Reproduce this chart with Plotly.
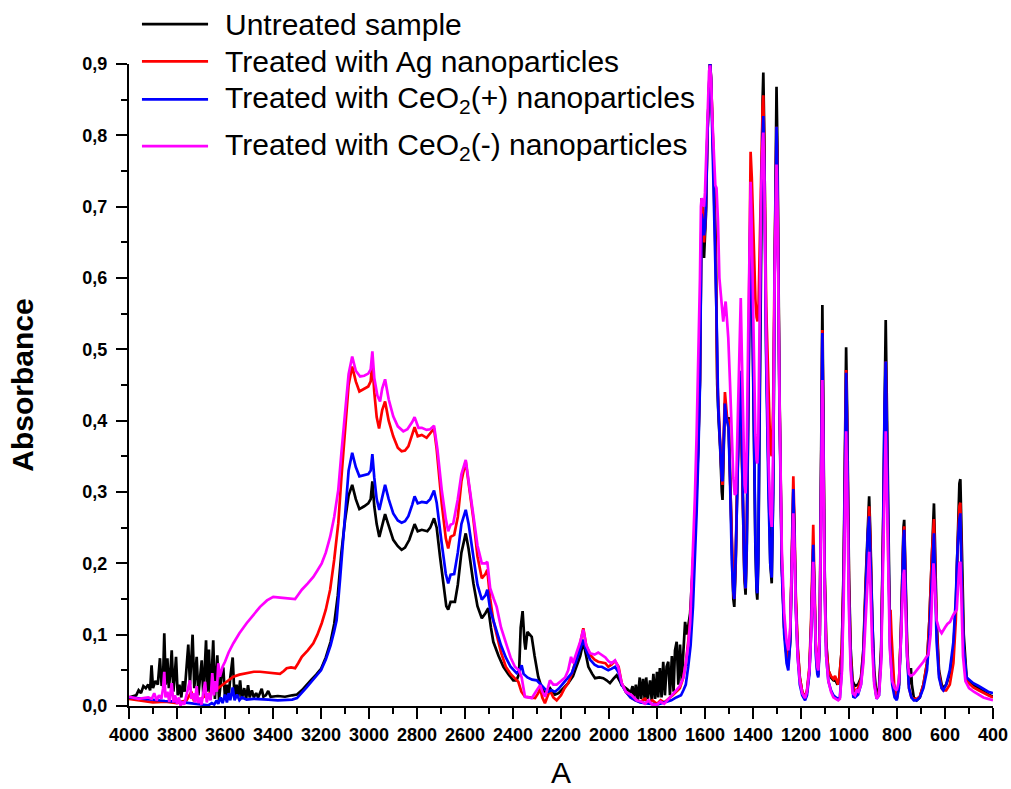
import plotly.graph_objects as go

# ---------------- data (wavenumber, absorbance) ----------------
untreated = [
    (4000, 0.012), (3985, 0.013), (3970, 0.015), (3960, 0.022), (3950, 0.018), (3940, 0.028),
    (3930, 0.025), (3920, 0.030), (3912, 0.022), (3906, 0.057), (3900, 0.025), (3890, 0.035),
    (3880, 0.030), (3871, 0.067), (3864, 0.028), (3858, 0.040), (3853, 0.102), (3847, 0.030),
    (3840, 0.067), (3834, 0.025), (3828, 0.045), (3822, 0.078), (3815, 0.020), (3810, 0.040),
    (3804, 0.069), (3797, 0.015), (3790, 0.030), (3782, 0.012), (3775, 0.035), (3768, 0.020),
    (3760, 0.055), (3753, 0.086), (3746, 0.030), (3740, 0.060), (3735, 0.100), (3728, 0.025),
    (3723, 0.045), (3718, 0.069), (3711, 0.015), (3704, 0.040), (3697, 0.064), (3690, 0.012),
    (3685, 0.050), (3679, 0.092), (3673, 0.020), (3667, 0.079), (3660, 0.010), (3655, 0.045),
    (3649, 0.092), (3642, 0.010), (3637, 0.040), (3632, 0.071), (3625, 0.008), (3619, 0.030),
    (3613, 0.050), (3607, 0.054), (3600, 0.010), (3592, 0.030), (3585, 0.012), (3578, 0.040),
    (3568, 0.068), (3560, 0.010), (3552, 0.030), (3545, 0.012), (3537, 0.036), (3530, 0.010),
    (3520, 0.025), (3512, 0.010), (3504, 0.029), (3497, 0.012), (3488, 0.022), (3480, 0.012),
    (3470, 0.018), (3462, 0.012), (3447, 0.024), (3440, 0.013), (3430, 0.015), (3420, 0.021),
    (3410, 0.013), (3380, 0.014), (3350, 0.013), (3320, 0.015), (3300, 0.016), (3280, 0.022),
    (3260, 0.030), (3240, 0.037), (3220, 0.044), (3200, 0.052), (3180, 0.068), (3160, 0.090),
    (3145, 0.115), (3130, 0.155), (3115, 0.215), (3100, 0.260), (3085, 0.295), (3070, 0.310),
    (3055, 0.290), (3040, 0.276), (3020, 0.280), (3003, 0.284), (2993, 0.290), (2986, 0.315),
    (2978, 0.280), (2968, 0.255), (2957, 0.237), (2945, 0.255), (2933, 0.269), (2920, 0.255),
    (2899, 0.233), (2880, 0.224), (2864, 0.219), (2850, 0.222), (2832, 0.233), (2820, 0.245),
    (2810, 0.255), (2797, 0.245), (2780, 0.247), (2757, 0.245), (2745, 0.250), (2729, 0.263),
    (2718, 0.250), (2704, 0.209), (2690, 0.170), (2678, 0.140), (2670, 0.135), (2660, 0.146),
    (2642, 0.146), (2630, 0.170), (2615, 0.215), (2597, 0.242), (2585, 0.220), (2565, 0.172),
    (2548, 0.140), (2530, 0.123), (2515, 0.130), (2503, 0.137), (2492, 0.110), (2482, 0.090),
    (2460, 0.070), (2440, 0.055), (2420, 0.045), (2399, 0.036), (2385, 0.036), (2375, 0.045),
    (2368, 0.110), (2360, 0.133), (2352, 0.090), (2348, 0.079), (2340, 0.104), (2322, 0.097),
    (2310, 0.070), (2295, 0.041), (2280, 0.025), (2267, 0.018), (2255, 0.022), (2246, 0.025),
    (2235, 0.020), (2225, 0.016), (2210, 0.018), (2190, 0.025), (2170, 0.032), (2150, 0.042),
    (2135, 0.055), (2120, 0.070), (2107, 0.090), (2095, 0.068), (2086, 0.055), (2070, 0.045),
    (2058, 0.039), (2040, 0.040), (2024, 0.039), (2010, 0.036), (1996, 0.032), (1982, 0.038),
    (1968, 0.043), (1955, 0.035), (1947, 0.029), (1930, 0.025), (1919, 0.022), (1910, 0.018),
    (1902, 0.028), (1896, 0.010), (1888, 0.030), (1880, 0.008), (1872, 0.040), (1866, 0.010),
    (1858, 0.038), (1851, 0.008), (1845, 0.040), (1838, 0.010), (1829, 0.036), (1822, 0.008),
    (1815, 0.045), (1808, 0.010), (1800, 0.048), (1795, 0.012), (1788, 0.053), (1781, 0.012),
    (1774, 0.062), (1767, 0.015), (1760, 0.055), (1753, 0.062), (1746, 0.015), (1738, 0.070),
    (1731, 0.020), (1725, 0.078), (1718, 0.090), (1711, 0.030), (1704, 0.086), (1697, 0.035),
    (1690, 0.070), (1683, 0.118), (1675, 0.100), (1662, 0.130), (1650, 0.200), (1642, 0.247),
    (1635, 0.300), (1628, 0.364), (1621, 0.457), (1617, 0.600), (1614, 0.712), (1609, 0.690),
    (1604, 0.628), (1600, 0.660), (1596, 0.689), (1590, 0.800), (1583, 0.880), (1579, 0.905),
    (1575, 0.880), (1569, 0.820), (1561, 0.726), (1555, 0.647), (1549, 0.450), (1543, 0.400),
    (1537, 0.364), (1530, 0.300), (1527, 0.289), (1522, 0.360), (1517, 0.425), (1512, 0.410),
    (1507, 0.400), (1502, 0.405), (1496, 0.330), (1488, 0.200), (1482, 0.150), (1478, 0.139),
    (1472, 0.200), (1465, 0.320), (1458, 0.420), (1454, 0.460), (1449, 0.400), (1442, 0.260),
    (1436, 0.180), (1431, 0.156), (1426, 0.220), (1420, 0.400), (1414, 0.620), (1410, 0.700),
    (1406, 0.640), (1398, 0.400), (1390, 0.220), (1385, 0.160), (1382, 0.149), (1378, 0.200),
    (1372, 0.420), (1366, 0.700), (1360, 0.850), (1357, 0.888), (1353, 0.800), (1345, 0.500),
    (1335, 0.300), (1328, 0.200), (1322, 0.172), (1316, 0.300), (1310, 0.600), (1305, 0.830),
    (1302, 0.868), (1298, 0.780), (1290, 0.450), (1280, 0.200), (1270, 0.110), (1260, 0.070),
    (1253, 0.057), (1245, 0.090), (1240, 0.180), (1236, 0.280), (1232, 0.300), (1228, 0.250),
    (1222, 0.150), (1214, 0.080), (1205, 0.040), (1195, 0.020), (1183, 0.011), (1175, 0.020),
    (1165, 0.050), (1158, 0.110), (1152, 0.200), (1149, 0.220), (1145, 0.170), (1138, 0.080),
    (1132, 0.050), (1128, 0.043), (1122, 0.100), (1117, 0.300), (1113, 0.500), (1111, 0.562),
    (1108, 0.450), (1102, 0.200), (1095, 0.090), (1086, 0.050), (1075, 0.040), (1065, 0.036),
    (1055, 0.035), (1048, 0.030), (1040, 0.040), (1030, 0.080), (1022, 0.200), (1016, 0.400),
    (1012, 0.503), (1008, 0.420), (1000, 0.180), (993, 0.080), (985, 0.035), (975, 0.028),
    (962, 0.030), (950, 0.040), (940, 0.080), (930, 0.180), (922, 0.260), (916, 0.294),
    (911, 0.240), (903, 0.120), (895, 0.050), (885, 0.015), (875, 0.025), (866, 0.080),
    (858, 0.250), (852, 0.450), (847, 0.541), (843, 0.440), (836, 0.220), (830, 0.110),
    (820, 0.050), (810, 0.020), (801, 0.010), (792, 0.030), (784, 0.100), (778, 0.200),
    (773, 0.250), (770, 0.261), (766, 0.200), (758, 0.090), (750, 0.030), (745, 0.045),
    (742, 0.053), (738, 0.030), (730, 0.012), (718, 0.008), (705, 0.012), (690, 0.030),
    (675, 0.060), (665, 0.120), (655, 0.220), (650, 0.265), (646, 0.284), (642, 0.230),
    (635, 0.120), (625, 0.050), (614, 0.030), (607, 0.025), (595, 0.030), (580, 0.045),
    (565, 0.080), (555, 0.140), (548, 0.240), (540, 0.312), (536, 0.318), (530, 0.200),
    (522, 0.100), (510, 0.040), (495, 0.032), (482, 0.030), (460, 0.025), (440, 0.020),
    (420, 0.016), (400, 0.013),
]

ag = [
    (4000, 0.010), (3950, 0.007), (3900, 0.005), (3850, 0.006), (3800, 0.004), (3760, 0.008),
    (3740, 0.020), (3730, 0.008), (3700, 0.010), (3680, 0.015), (3660, 0.018), (3640, 0.022),
    (3621, 0.027), (3600, 0.032), (3585, 0.036), (3565, 0.041), (3540, 0.044), (3510, 0.046),
    (3480, 0.048), (3454, 0.048), (3420, 0.047), (3390, 0.046), (3371, 0.045), (3355, 0.049),
    (3343, 0.053), (3325, 0.054), (3308, 0.053), (3295, 0.060), (3280, 0.069), (3255, 0.078),
    (3232, 0.088), (3215, 0.100), (3197, 0.116), (3180, 0.135), (3162, 0.163), (3145, 0.205),
    (3128, 0.256), (3115, 0.320), (3100, 0.387), (3085, 0.450), (3070, 0.476), (3055, 0.455),
    (3040, 0.441), (3020, 0.445), (3003, 0.448), (2993, 0.455), (2986, 0.481), (2978, 0.440),
    (2968, 0.405), (2958, 0.389), (2945, 0.415), (2933, 0.427), (2918, 0.400), (2899, 0.378),
    (2880, 0.362), (2864, 0.357), (2850, 0.358), (2836, 0.364), (2820, 0.380), (2810, 0.391),
    (2797, 0.378), (2780, 0.380), (2760, 0.376), (2745, 0.382), (2729, 0.389), (2718, 0.360),
    (2697, 0.284), (2680, 0.235), (2670, 0.221), (2660, 0.237), (2645, 0.240), (2630, 0.265),
    (2615, 0.315), (2597, 0.343), (2585, 0.315), (2565, 0.262), (2548, 0.210), (2530, 0.179),
    (2515, 0.185), (2507, 0.191), (2495, 0.150), (2482, 0.120), (2468, 0.100), (2450, 0.075),
    (2430, 0.055), (2410, 0.045), (2390, 0.038), (2378, 0.034), (2365, 0.020), (2350, 0.013),
    (2330, 0.012), (2308, 0.011), (2295, 0.018), (2287, 0.025), (2278, 0.012), (2267, 0.004),
    (2258, 0.012), (2246, 0.022), (2232, 0.012), (2218, 0.008), (2200, 0.015), (2185, 0.025),
    (2170, 0.032), (2155, 0.045), (2142, 0.060), (2125, 0.080), (2107, 0.109), (2095, 0.085),
    (2079, 0.072), (2060, 0.065), (2045, 0.062), (2030, 0.061), (2015, 0.060), (2003, 0.055),
    (1990, 0.058), (1975, 0.063), (1960, 0.055), (1947, 0.032), (1930, 0.020), (1910, 0.012),
    (1890, 0.008), (1870, 0.006), (1850, 0.010), (1835, 0.004), (1820, 0.008), (1800, 0.003),
    (1785, 0.008), (1770, 0.005), (1750, 0.010), (1735, 0.015), (1720, 0.020), (1705, 0.025),
    (1690, 0.040), (1680, 0.060), (1670, 0.090), (1660, 0.125), (1650, 0.200), (1642, 0.250),
    (1635, 0.310), (1628, 0.370), (1621, 0.460), (1617, 0.600), (1614, 0.710), (1609, 0.690),
    (1604, 0.650), (1600, 0.670), (1596, 0.700), (1590, 0.800), (1583, 0.880), (1579, 0.905),
    (1575, 0.880), (1569, 0.820), (1561, 0.700), (1555, 0.620), (1549, 0.460), (1543, 0.400),
    (1537, 0.370), (1530, 0.320), (1527, 0.310), (1522, 0.380), (1517, 0.440), (1512, 0.420),
    (1507, 0.400), (1502, 0.400), (1496, 0.330), (1488, 0.220), (1482, 0.160), (1478, 0.150),
    (1472, 0.210), (1465, 0.330), (1458, 0.430), (1454, 0.460), (1449, 0.400), (1442, 0.270),
    (1436, 0.190), (1431, 0.165), (1426, 0.250), (1420, 0.450), (1414, 0.700), (1410, 0.777),
    (1405, 0.740), (1398, 0.650), (1390, 0.570), (1385, 0.545), (1381, 0.539), (1377, 0.560),
    (1372, 0.660), (1366, 0.780), (1360, 0.840), (1357, 0.856), (1353, 0.780), (1345, 0.560),
    (1335, 0.420), (1328, 0.360), (1322, 0.350), (1316, 0.420), (1310, 0.620), (1305, 0.790),
    (1302, 0.812), (1298, 0.750), (1290, 0.440), (1280, 0.200), (1270, 0.110), (1260, 0.070),
    (1253, 0.062), (1245, 0.100), (1240, 0.190), (1236, 0.300), (1232, 0.322), (1228, 0.270),
    (1222, 0.160), (1214, 0.085), (1205, 0.040), (1195, 0.020), (1183, 0.012), (1175, 0.022),
    (1165, 0.055), (1158, 0.120), (1152, 0.230), (1149, 0.254), (1145, 0.190), (1138, 0.085),
    (1132, 0.050), (1128, 0.045), (1122, 0.100), (1117, 0.300), (1113, 0.480), (1111, 0.527),
    (1108, 0.430), (1102, 0.190), (1095, 0.085), (1086, 0.050), (1075, 0.042), (1065, 0.038),
    (1058, 0.042), (1052, 0.036), (1045, 0.030), (1040, 0.040), (1030, 0.080), (1022, 0.190),
    (1016, 0.380), (1012, 0.471), (1008, 0.400), (1000, 0.170), (993, 0.070), (985, 0.030),
    (975, 0.020), (962, 0.025), (950, 0.038), (940, 0.075), (930, 0.170), (922, 0.250),
    (916, 0.280), (911, 0.230), (903, 0.110), (895, 0.040), (885, 0.012), (875, 0.020),
    (866, 0.075), (858, 0.240), (852, 0.420), (847, 0.483), (843, 0.400), (836, 0.200),
    (830, 0.130), (827, 0.135), (823, 0.100), (815, 0.040), (810, 0.020), (801, 0.010),
    (792, 0.030), (784, 0.100), (778, 0.190), (773, 0.240), (770, 0.252), (766, 0.190),
    (758, 0.080), (750, 0.025), (740, 0.012), (730, 0.010), (718, 0.010), (705, 0.013),
    (690, 0.030), (675, 0.060), (665, 0.120), (655, 0.210), (650, 0.250), (646, 0.262),
    (642, 0.210), (635, 0.110), (625, 0.045), (614, 0.025), (607, 0.022), (595, 0.022),
    (580, 0.030), (565, 0.060), (555, 0.120), (548, 0.220), (540, 0.280), (536, 0.285),
    (530, 0.180), (522, 0.080), (510, 0.035), (495, 0.030), (482, 0.026), (460, 0.022),
    (440, 0.018), (420, 0.015), (400, 0.012),
]

ceo2_pos = [
    (4000, 0.012), (3950, 0.010), (3900, 0.008), (3850, 0.007), (3800, 0.006), (3750, 0.004),
    (3700, 0.002), (3670, 0.001), (3655, 0.004), (3645, 0.002), (3635, 0.008), (3628, 0.003),
    (3618, 0.012), (3610, 0.004), (3600, 0.016), (3592, 0.005), (3585, 0.018), (3578, 0.008),
    (3568, 0.026), (3560, 0.008), (3550, 0.016), (3540, 0.008), (3530, 0.012), (3510, 0.009),
    (3480, 0.010), (3450, 0.009), (3420, 0.009), (3380, 0.008), (3350, 0.008), (3320, 0.009),
    (3300, 0.011), (3280, 0.018), (3260, 0.026), (3240, 0.034), (3220, 0.042), (3200, 0.050),
    (3180, 0.065), (3160, 0.085), (3145, 0.105), (3135, 0.120), (3120, 0.180), (3110, 0.225),
    (3100, 0.266), (3085, 0.330), (3070, 0.355), (3055, 0.335), (3040, 0.322), (3020, 0.324),
    (3003, 0.325), (2993, 0.330), (2986, 0.353), (2978, 0.320), (2968, 0.290), (2957, 0.275),
    (2945, 0.295), (2933, 0.310), (2918, 0.290), (2899, 0.270), (2880, 0.260), (2864, 0.257),
    (2850, 0.259), (2836, 0.266), (2820, 0.282), (2810, 0.294), (2797, 0.284), (2780, 0.286),
    (2760, 0.285), (2745, 0.290), (2729, 0.302), (2718, 0.285), (2697, 0.228), (2680, 0.185),
    (2670, 0.172), (2660, 0.184), (2645, 0.185), (2630, 0.215), (2615, 0.255), (2597, 0.275),
    (2585, 0.255), (2565, 0.210), (2548, 0.170), (2530, 0.149), (2515, 0.155), (2507, 0.163),
    (2495, 0.135), (2482, 0.120), (2468, 0.105), (2450, 0.085), (2430, 0.068), (2410, 0.055),
    (2385, 0.046), (2372, 0.050), (2364, 0.057), (2356, 0.045), (2340, 0.040), (2320, 0.037),
    (2301, 0.036), (2285, 0.030), (2270, 0.025), (2253, 0.020), (2240, 0.022), (2225, 0.020),
    (2210, 0.024), (2190, 0.032), (2170, 0.040), (2155, 0.046), (2140, 0.060), (2125, 0.075),
    (2107, 0.093), (2095, 0.078), (2079, 0.065), (2060, 0.058), (2045, 0.055), (2030, 0.055),
    (2015, 0.052), (2003, 0.050), (1990, 0.052), (1975, 0.055), (1960, 0.047), (1947, 0.030),
    (1930, 0.020), (1910, 0.012), (1890, 0.008), (1870, 0.005), (1850, 0.004), (1830, 0.003),
    (1800, 0.002), (1780, 0.004), (1760, 0.006), (1740, 0.008), (1720, 0.012), (1700, 0.015),
    (1690, 0.022), (1680, 0.030), (1670, 0.055), (1660, 0.085), (1650, 0.140), (1642, 0.200),
    (1635, 0.270), (1628, 0.350), (1621, 0.450), (1617, 0.590), (1614, 0.690), (1609, 0.680),
    (1604, 0.660), (1600, 0.670), (1596, 0.700), (1590, 0.800), (1583, 0.880), (1579, 0.905),
    (1575, 0.880), (1569, 0.800), (1561, 0.680), (1557, 0.648), (1552, 0.548), (1545, 0.420),
    (1537, 0.360), (1530, 0.318), (1527, 0.315), (1522, 0.370), (1517, 0.424), (1512, 0.405),
    (1507, 0.395), (1502, 0.390), (1496, 0.320), (1488, 0.200), (1482, 0.160), (1478, 0.150),
    (1472, 0.210), (1465, 0.330), (1458, 0.440), (1454, 0.470), (1449, 0.410), (1442, 0.270),
    (1436, 0.190), (1431, 0.165), (1426, 0.230), (1420, 0.420), (1414, 0.640), (1410, 0.710),
    (1406, 0.650), (1398, 0.410), (1390, 0.230), (1385, 0.165), (1382, 0.158), (1378, 0.210),
    (1372, 0.430), (1366, 0.700), (1360, 0.800), (1357, 0.827), (1353, 0.760), (1345, 0.480),
    (1335, 0.290), (1328, 0.200), (1322, 0.180), (1316, 0.300), (1310, 0.600), (1305, 0.790),
    (1302, 0.812), (1298, 0.740), (1290, 0.430), (1280, 0.190), (1270, 0.100), (1260, 0.060),
    (1253, 0.050), (1245, 0.090), (1240, 0.180), (1236, 0.280), (1232, 0.304), (1228, 0.250),
    (1222, 0.140), (1214, 0.070), (1205, 0.030), (1195, 0.015), (1183, 0.008), (1175, 0.015),
    (1165, 0.045), (1158, 0.100), (1152, 0.200), (1149, 0.226), (1145, 0.170), (1138, 0.070),
    (1132, 0.045), (1128, 0.040), (1122, 0.090), (1117, 0.300), (1113, 0.480), (1111, 0.523),
    (1108, 0.420), (1102, 0.180), (1095, 0.070), (1086, 0.035), (1075, 0.022), (1065, 0.015),
    (1055, 0.012), (1045, 0.010), (1038, 0.012), (1030, 0.050), (1022, 0.180), (1016, 0.380),
    (1012, 0.467), (1008, 0.390), (1000, 0.150), (993, 0.060), (985, 0.020), (982, 0.013),
    (975, 0.012), (962, 0.016), (950, 0.030), (940, 0.070), (930, 0.160), (922, 0.240),
    (916, 0.266), (911, 0.210), (903, 0.100), (895, 0.035), (885, 0.010), (875, 0.015),
    (866, 0.070), (858, 0.230), (852, 0.420), (847, 0.483), (843, 0.400), (836, 0.190),
    (830, 0.090), (820, 0.030), (810, 0.012), (801, 0.008), (792, 0.025), (784, 0.090),
    (778, 0.180), (773, 0.235), (770, 0.247), (766, 0.180), (758, 0.070), (750, 0.025),
    (740, 0.012), (730, 0.008), (718, 0.008), (705, 0.012), (690, 0.025), (675, 0.050),
    (665, 0.100), (655, 0.180), (650, 0.225), (646, 0.242), (642, 0.190), (635, 0.090),
    (625, 0.040), (614, 0.025), (607, 0.022), (595, 0.030), (580, 0.050), (565, 0.090),
    (555, 0.150), (548, 0.220), (540, 0.262), (536, 0.270), (530, 0.170), (522, 0.080),
    (510, 0.040), (495, 0.035), (482, 0.032), (460, 0.028), (440, 0.024), (420, 0.020),
    (400, 0.018),
]

ceo2_neg = [
    (4000, 0.013), (3980, 0.012), (3960, 0.010), (3940, 0.011), (3920, 0.012), (3905, 0.010),
    (3895, 0.018), (3885, 0.008), (3875, 0.015), (3865, 0.010), (3858, 0.025), (3853, 0.048),
    (3848, 0.012), (3840, 0.020), (3832, 0.006), (3826, 0.022), (3822, 0.032), (3815, 0.005),
    (3808, 0.015), (3800, 0.003), (3792, 0.012), (3785, 0.000), (3778, 0.006), (3770, 0.002),
    (3760, 0.015), (3752, 0.025), (3746, 0.036), (3740, 0.010), (3733, 0.018), (3725, 0.005),
    (3718, 0.028), (3712, 0.004), (3705, 0.012), (3698, 0.002), (3690, 0.020), (3683, 0.034),
    (3676, 0.005), (3668, 0.018), (3660, 0.008), (3653, 0.046), (3646, 0.015), (3640, 0.035),
    (3634, 0.020), (3628, 0.060), (3621, 0.041), (3610, 0.055), (3600, 0.062), (3585, 0.075),
    (3565, 0.088), (3540, 0.102), (3510, 0.116), (3480, 0.128), (3454, 0.139), (3425, 0.148),
    (3399, 0.153), (3370, 0.152), (3343, 0.151), (3320, 0.150), (3308, 0.150), (3295, 0.156),
    (3280, 0.163), (3255, 0.172), (3232, 0.181), (3215, 0.190), (3197, 0.200), (3180, 0.215),
    (3162, 0.237), (3145, 0.265), (3128, 0.303), (3115, 0.355), (3100, 0.410), (3085, 0.465),
    (3070, 0.490), (3055, 0.470), (3037, 0.462), (3020, 0.463), (3003, 0.466), (2993, 0.472),
    (2986, 0.497), (2978, 0.460), (2965, 0.435), (2954, 0.427), (2945, 0.445), (2933, 0.458),
    (2918, 0.430), (2899, 0.406), (2880, 0.392), (2857, 0.385), (2840, 0.388), (2820, 0.398),
    (2810, 0.405), (2794, 0.390), (2780, 0.390), (2760, 0.387), (2745, 0.388), (2729, 0.393),
    (2715, 0.360), (2697, 0.303), (2680, 0.262), (2670, 0.245), (2660, 0.254), (2649, 0.256),
    (2630, 0.290), (2615, 0.325), (2597, 0.345), (2585, 0.315), (2565, 0.266), (2548, 0.225),
    (2530, 0.200), (2515, 0.200), (2507, 0.202), (2495, 0.165), (2480, 0.150), (2468, 0.139),
    (2450, 0.110), (2426, 0.083), (2410, 0.068), (2392, 0.055), (2375, 0.050), (2364, 0.040),
    (2355, 0.018), (2350, 0.013), (2335, 0.012), (2322, 0.011), (2305, 0.020), (2287, 0.029),
    (2277, 0.020), (2267, 0.013), (2255, 0.025), (2246, 0.036), (2232, 0.030), (2218, 0.030),
    (2200, 0.035), (2183, 0.040), (2170, 0.050), (2158, 0.069), (2150, 0.060), (2135, 0.075),
    (2120, 0.090), (2107, 0.107), (2095, 0.085), (2079, 0.074), (2060, 0.072), (2045, 0.075),
    (2030, 0.072), (2015, 0.068), (2003, 0.063), (1990, 0.060), (1975, 0.064), (1962, 0.055),
    (1947, 0.032), (1930, 0.020), (1905, 0.015), (1885, 0.008), (1864, 0.006), (1850, 0.003),
    (1835, 0.008), (1820, 0.002), (1800, 0.002), (1785, 0.006), (1770, 0.003), (1750, 0.010),
    (1735, 0.016), (1720, 0.022), (1705, 0.028), (1690, 0.040), (1680, 0.060), (1670, 0.085),
    (1662, 0.116), (1652, 0.200), (1642, 0.294), (1635, 0.380), (1628, 0.480), (1621, 0.600),
    (1617, 0.700), (1614, 0.712), (1609, 0.705), (1604, 0.700), (1600, 0.720), (1596, 0.760),
    (1590, 0.840), (1583, 0.890), (1579, 0.898), (1575, 0.880), (1569, 0.820), (1563, 0.760),
    (1557, 0.730), (1552, 0.726), (1546, 0.680), (1540, 0.600), (1537, 0.586), (1530, 0.555),
    (1524, 0.539), (1519, 0.555), (1514, 0.567), (1508, 0.540), (1503, 0.516), (1496, 0.455),
    (1488, 0.370), (1482, 0.320), (1476, 0.296), (1471, 0.298), (1465, 0.380), (1458, 0.500),
    (1451, 0.572), (1447, 0.500), (1440, 0.370), (1435, 0.310), (1431, 0.298), (1426, 0.360),
    (1420, 0.520), (1414, 0.690), (1410, 0.735), (1406, 0.680), (1398, 0.500), (1390, 0.380),
    (1385, 0.345), (1382, 0.340), (1378, 0.380), (1372, 0.540), (1366, 0.720), (1360, 0.790),
    (1357, 0.804), (1353, 0.740), (1345, 0.520), (1335, 0.340), (1328, 0.270), (1322, 0.251),
    (1316, 0.360), (1310, 0.600), (1305, 0.740), (1302, 0.759), (1298, 0.700), (1290, 0.440),
    (1280, 0.220), (1270, 0.130), (1260, 0.090), (1253, 0.078), (1245, 0.110), (1240, 0.180),
    (1236, 0.250), (1232, 0.270), (1228, 0.230), (1222, 0.140), (1214, 0.070), (1205, 0.035),
    (1195, 0.018), (1183, 0.011), (1175, 0.020), (1165, 0.050), (1158, 0.100), (1152, 0.180),
    (1149, 0.202), (1145, 0.160), (1138, 0.080), (1132, 0.055), (1128, 0.050), (1122, 0.100),
    (1117, 0.260), (1113, 0.410), (1111, 0.457), (1108, 0.380), (1102, 0.170), (1095, 0.070),
    (1086, 0.035), (1075, 0.020), (1065, 0.012), (1055, 0.010), (1045, 0.008), (1038, 0.010),
    (1030, 0.045), (1022, 0.150), (1016, 0.310), (1012, 0.385), (1008, 0.320), (1000, 0.130),
    (993, 0.050), (985, 0.018), (975, 0.015), (968, 0.022), (960, 0.020), (950, 0.030),
    (940, 0.060), (930, 0.130), (922, 0.190), (916, 0.216), (911, 0.170), (903, 0.080),
    (895, 0.030), (885, 0.010), (875, 0.015), (866, 0.060), (858, 0.200), (852, 0.340),
    (847, 0.385), (843, 0.320), (836, 0.160), (830, 0.080), (820, 0.035), (810, 0.025),
    (801, 0.022), (792, 0.035), (784, 0.090), (778, 0.160), (773, 0.185), (770, 0.191),
    (766, 0.140), (758, 0.070), (750, 0.045), (742, 0.042), (730, 0.045), (718, 0.050),
    (705, 0.055), (690, 0.062), (675, 0.070), (669, 0.072), (660, 0.100), (652, 0.170),
    (648, 0.200), (644, 0.180), (635, 0.120), (625, 0.108), (614, 0.102), (600, 0.110),
    (590, 0.115), (579, 0.118), (565, 0.128), (551, 0.135), (545, 0.170), (540, 0.200),
    (536, 0.202), (532, 0.160), (525, 0.070), (515, 0.035), (500, 0.025), (480, 0.020),
    (460, 0.016), (440, 0.012), (420, 0.010), (400, 0.008),
]

series_names = [
    "Untreated sample",
    "Treated with Ag nanoparticles",
    "Treated with CeO<sub>2</sub>(+) nanoparticles",
    "Treated with CeO<sub>2</sub>(-) nanoparticles",
]
series_data = [untreated, ag, ceo2_pos, ceo2_neg]
series_colors = ["#000000", "#FF0000", "#0000FF", "#FF00FF"]

x_ticks = list(range(4000, 399, -200))
y_ticks = [0.0, 0.1, 0.2, 0.3, 0.4, 0.5, 0.6, 0.7, 0.8, 0.9]

FONT = "Arial, 'Liberation Sans', sans-serif"

fig = go.Figure()
for name, data, color in zip(series_names, series_data, series_colors):
    xs = [p[0] for p in data]
    ys = [p[1] for p in data]
    fig.add_trace(go.Scatter(x=xs, y=ys, mode="lines", name=name,
                             line=dict(color=color, width=2.7), showlegend=False))

# manual legend (long line samples, as in the original)
leg_y = [1.062, 1.004, 0.945, 0.872]
for name, color, ly in zip(series_names, series_colors, leg_y):
    fig.add_shape(type="line", xref="paper", yref="paper", x0=0.015, x1=0.0915,
                  y0=ly, y1=ly, line=dict(color=color, width=2.7))
    fig.add_annotation(xref="paper", yref="paper", x=0.109, y=ly, text=name,
                       showarrow=False, xanchor="left", yanchor="middle",
                       font=dict(family=FONT, size=30, color="#000000"))

fig.update_layout(
    width=1011, height=789,
    margin=dict(l=129, r=18, t=64, b=83),
    paper_bgcolor="white", plot_bgcolor="white",
    separators=",.",
    font=dict(family=FONT, color="#000000"),
    xaxis=dict(
        range=[4000, 400], tickmode="array", tickvals=x_ticks,
        ticktext=["<b>%d</b>" % v for v in x_ticks],
        ticks="outside", ticklen=11, tickwidth=2, tickcolor="#000",
        showline=True, linewidth=2, linecolor="#000", showgrid=False, zeroline=False,
        tickfont=dict(family=FONT, size=18, color="#000"),
        minor=dict(dtick=100, tick0=0, ticks="outside", ticklen=6, tickwidth=2, tickcolor="#000", showgrid=False),
        title=dict(text="A", font=dict(family=FONT, size=30, color="#000"), standoff=20),
        automargin=False,
    ),
    yaxis=dict(
        range=[0, 0.9], tickmode="array", tickvals=y_ticks,
        ticktext=["<b>%s</b>" % ("%.1f" % v).replace(".", ",") for v in y_ticks],
        ticks="outside", ticklen=11, tickwidth=2, tickcolor="#000",
        showline=True, linewidth=2, linecolor="#000", showgrid=False, zeroline=False,
        tickfont=dict(family=FONT, size=18, color="#000"),
        ticklabelstandoff=5,
        minor=dict(dtick=0.05, tick0=0, ticks="outside", ticklen=6, tickwidth=2, tickcolor="#000", showgrid=False),
        title=dict(text="<b>Absorbance</b>", font=dict(family=FONT, size=30, color="#000"), standoff=40),
        automargin=False,
    ),
)

fig.write_html("out.html")
